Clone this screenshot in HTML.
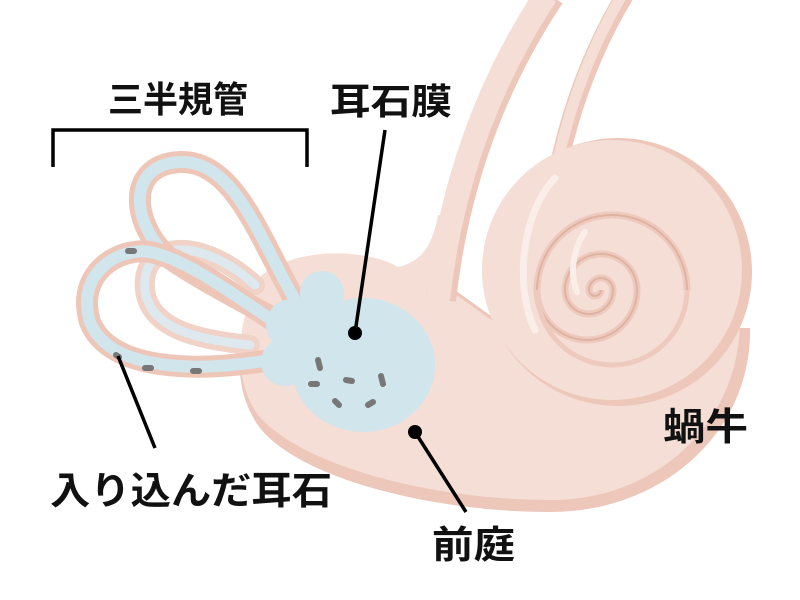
<!DOCTYPE html>
<html><head><meta charset="utf-8"><style>
html,body{margin:0;padding:0;background:#fff;width:800px;height:600px;overflow:hidden}
svg{display:block}
text{font-family:"Liberation Sans","Noto Sans CJK JP",sans-serif;font-weight:bold;fill:#111}
</style></head><body>
<svg width="800" height="600" viewBox="0 0 800 600">
<!-- tube B -->
<g fill="none" stroke-linecap="butt">
<path d="M560,160 Q580,70 625,-5" stroke="#ecc7ba" stroke-width="18"/>
<path d="M558,160 Q578,70 622,-5" stroke="#f5ded5" stroke-width="11"/>
</g>
<!-- vestibule body -->
<path d="M262,283 C300,253 370,258 420,276 L480,328 L750,328 C752,430 665,512 550,512 C430,512 300,478 260,428 C230,388 235,328 262,283 Z" fill="#ecc7ba"/>
<path d="M262,275 C300,245 370,250 398,267 C420,262 432,248 438,215 L452,215 L456,292 L495,320 L740,320 C740,420 660,500 550,500 C430,500 300,465 258,415 C232,380 235,320 262,275 Z" fill="#f5ded5"/>
<!-- tube A -->
<g fill="none" stroke-linecap="butt">
<path d="M441,300 Q460,130 550,-5" stroke="#ecc7ba" stroke-width="30"/>
<path d="M438,300 Q457,130 546,-5" stroke="#f5ded5" stroke-width="24"/>
</g>
<path d="M427,272 C432,262 436,250 438,235" stroke="#f5ded5" stroke-width="6" fill="none"/>
<path d="M455,292 L494,320" stroke="#ecc7ba" stroke-width="3"/>
<!-- cochlea -->
<circle cx="618" cy="272" r="134" fill="#ecc7ba"/>
<circle cx="612" cy="270" r="130" fill="#f5ded5"/>
<path d="M555,178 C520,215 515,290 535,330" stroke="#faeee9" stroke-width="7" fill="none" stroke-linecap="round"/>
<g fill="none">
<path d="M687,290 A75 75 0 0 0 537,290 A50 50 0 0 0 637,290 A36 36 0 0 0 565,290 A24 24 0 0 0 613,290 A12 12 0 0 0 589,290 A6 6 0 0 0 601,290" stroke="#edcabd" stroke-width="7"/>
<path d="M687,290 A75 75 0 0 0 537,290 A50 50 0 0 0 637,290 A36 36 0 0 0 565,290 A24 24 0 0 0 613,290 A12 12 0 0 0 589,290 A6 6 0 0 0 601,290" stroke="#dfb2a2" stroke-width="2"/>
<path d="M687,290 A75 75 0 0 1 537,290" stroke="#edcabd" stroke-width="5"/>
</g>
<path d="M585,232 C572,250 570,275 577,292" stroke="#faeee9" stroke-width="6" fill="none" stroke-linecap="round"/>
<!-- canals -->
<g fill="none" stroke-linecap="round">
<path d="M250,345 C200,340 150,330 145,290 C140,240 200,235 255,285" stroke="#f0d2c7" stroke-width="20"/>
<path d="M250,345 C200,340 150,330 145,290 C140,240 200,235 255,285" stroke="#dde9ee" stroke-width="9"/>
<path d="M295,300 C260,240 235,160 180,162 C120,165 135,235 175,262 C210,285 250,305 280,322" stroke="#eec6b8" stroke-width="22"/>
<path d="M295,300 C260,240 235,160 180,162 C120,165 135,235 175,262 C210,285 250,305 280,322" stroke="#d1e5ec" stroke-width="12"/>
<path d="M270,360 C200,372 110,372 90,322 C75,272 120,247 150,252 C190,260 240,300 280,325" stroke="#eec6b8" stroke-width="22"/>
<path d="M270,360 C200,372 110,372 90,322 C75,272 120,247 150,252 C190,260 240,300 280,325" stroke="#d1e5ec" stroke-width="12"/>
</g>
<!-- blue blob -->
<g fill="#d1e5ec">
<ellipse cx="363" cy="365" rx="72" ry="67"/>
<circle cx="322" cy="293" r="22"/>
<circle cx="292" cy="325" r="26"/>
<circle cx="285" cy="362" r="24"/>
</g>
<!-- stones -->
<g stroke="#777" stroke-width="6" stroke-linecap="round">
<line x1="318" y1="360" x2="320" y2="368"/>
<line x1="311" y1="384" x2="317" y2="384"/>
<line x1="346" y1="380" x2="352" y2="381"/>
<line x1="381" y1="376" x2="383" y2="384"/>
<line x1="335" y1="401" x2="339" y2="405"/>
<line x1="368" y1="405" x2="373" y2="402"/>
<line x1="128" y1="251" x2="134" y2="251"/>
<line x1="116" y1="355" x2="119" y2="357"/>
<line x1="145" y1="368" x2="151" y2="368"/>
<line x1="193" y1="371" x2="199" y2="371"/>
</g>
<!-- leader lines -->
<g stroke="#000" stroke-width="3.5" fill="none">
<polyline points="53,167 53,130 307,130 307,167"/>
<line x1="385" y1="130" x2="355" y2="333"/>
<line x1="118" y1="356" x2="155" y2="448"/>
<line x1="415" y1="432" x2="466" y2="512"/>
</g>
<circle cx="355" cy="333" r="7"/>
<circle cx="415" cy="432" r="7"/>
<text x="108" y="112" font-size="36" textLength="140" lengthAdjust="spacingAndGlyphs">三半規管</text>
<text x="330" y="114" font-size="36" textLength="122" lengthAdjust="spacingAndGlyphs">耳石膜</text>
<text x="663" y="440" font-size="38" textLength="85" lengthAdjust="spacingAndGlyphs">蝸牛</text>
<text x="50" y="504" font-size="38" textLength="282" lengthAdjust="spacingAndGlyphs">入り込んだ耳石</text>
<text x="432" y="558" font-size="38" textLength="83" lengthAdjust="spacingAndGlyphs">前庭</text>
</svg>
</body></html>
